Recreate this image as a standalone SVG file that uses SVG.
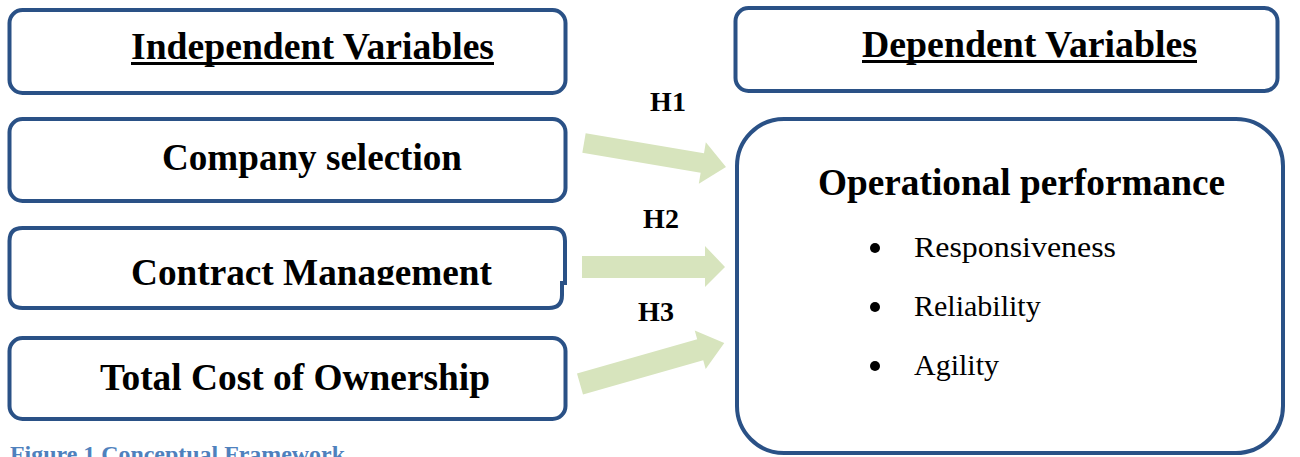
<svg xmlns="http://www.w3.org/2000/svg" width="1300" height="457" viewBox="0 0 1300 457">
  <style>
    .box { fill: #ffffff; stroke: #2a5186; stroke-width: 4; }
    .title { font-family: "Liberation Serif", "Times New Roman", serif; font-weight: bold; font-size: 37px; fill: #000; text-anchor: middle; }
    .hyp { font-family: "Liberation Serif", "Times New Roman", serif; font-weight: bold; font-size: 28px; fill: #000; text-anchor: middle; }
    .item { font-family: "Liberation Serif", "Times New Roman", serif; font-size: 30px; fill: #000; }
    .arrow { fill: #d7e4bd; }
    .caption { font-family: "Liberation Serif", "Times New Roman", serif; font-weight: bold; font-size: 23px; fill: #4f81bd; }
  </style>
  <defs>
    <clipPath id="cm-clip">
      <rect x="0" y="220" width="600" height="65"/>
    </clipPath>
  </defs>

  <rect width="1300" height="457" fill="#ffffff"/>

  <!-- Left column: independent variables -->
  <g id="independent-header">
    <rect class="box" x="9.5" y="10" width="556" height="83" rx="13"/>
    <text class="title" x="312.5" y="59" textLength="363" lengthAdjust="spacingAndGlyphs">Independent Variables</text>
    <rect x="131" y="62" width="363" height="3" fill="#000"/>
  </g>

  <g id="company-selection">
    <rect class="box" x="9.5" y="119" width="556" height="82" rx="13"/>
    <text class="title" x="312" y="170" textLength="300" lengthAdjust="spacingAndGlyphs">Company selection</text>
  </g>

  <g id="contract-management">
    <path class="box" d="M22.5,228 H552 Q565,228 565,241 V283 H562 V295 Q562,308 549,308 H22.5 Q9.5,308 9.5,295 V241 Q9.5,228 22.5,228 Z"/>
    <text class="title" x="311.5" y="285" textLength="361" lengthAdjust="spacingAndGlyphs" clip-path="url(#cm-clip)">Contract Management</text>
  </g>

  <g id="total-cost">
    <rect class="box" x="9.5" y="338" width="556" height="81" rx="13"/>
    <text class="title" x="295" y="390" textLength="390" lengthAdjust="spacingAndGlyphs">Total Cost of Ownership</text>
  </g>

  <!-- Right column: dependent variables -->
  <g id="dependent-header">
    <rect class="box" x="735.5" y="8" width="542" height="83" rx="13"/>
    <text class="title" x="1029.5" y="57" textLength="335" lengthAdjust="spacingAndGlyphs">Dependent Variables</text>
    <rect x="862" y="60" width="335" height="3" fill="#000"/>
  </g>

  <g id="operational-performance">
    <rect class="box" x="737" y="119" width="546" height="334" rx="47"/>
    <text class="title" x="1021.5" y="195" textLength="407" lengthAdjust="spacingAndGlyphs">Operational performance</text>
    <circle cx="875" cy="248" r="5"/>
    <text class="item" x="914" y="257" textLength="202" lengthAdjust="spacingAndGlyphs">Responsiveness</text>
    <circle cx="875" cy="307" r="5"/>
    <text class="item" x="914" y="316">Reliability</text>
    <circle cx="875" cy="366" r="5"/>
    <text class="item" x="914" y="375">Agility</text>
  </g>

  <!-- Hypothesis connectors -->
  <g id="connectors">
    <!-- H1 -->
    <polygon class="arrow" transform="translate(584,143) rotate(9.6)" points="0,-10 120,-10 120,-21 144,0 120,21 120,10 0,10"/>
    <!-- H2 -->
    <polygon class="arrow" points="582,256 705,256 705,246 725,267 705,287 705,278 582,278"/>
    <!-- H3 -->
    <polygon class="arrow" transform="translate(580,384) rotate(-15.9)" points="0,-11 125,-11 125,-20 150,0 125,20 125,11 0,11"/>
    <text class="hyp" x="668" y="111">H1</text>
    <text class="hyp" x="661" y="228">H2</text>
    <text class="hyp" x="656" y="321">H3</text>
  </g>

  <!-- figure caption, running past the lower edge of the page -->
  <text class="caption" x="10" y="462" textLength="335" lengthAdjust="spacingAndGlyphs">Figure 1 Conceptual Framework</text>
</svg>
